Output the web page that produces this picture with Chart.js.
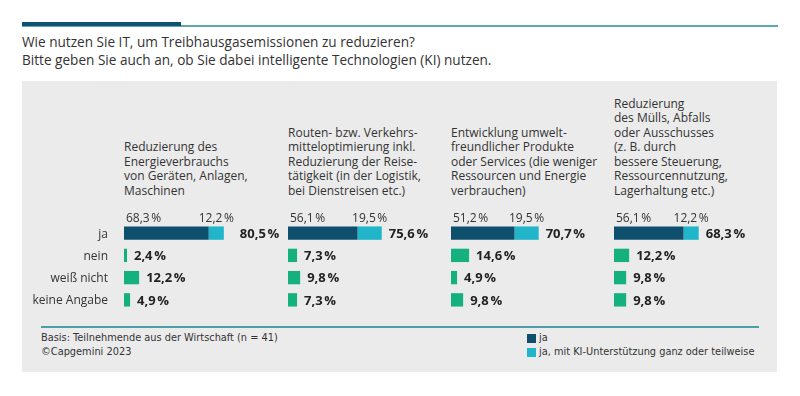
<!DOCTYPE html>
<html>
<head>
<meta charset="utf-8">
<script src="https://cdn.jsdelivr.net/npm/chart.js@4"></script>
<style>
  body { margin:0; width:800px; height:396px; background:#fff; position:relative; overflow:hidden; font-family:"Open Sans", sans-serif; color:#333; }
  .abs { position:absolute; }
  #topline { left:22px; top:25px; width:756px; height:1.5px; background:#5ea7b2; }
  #topbar { left:22px; top:22px; width:159px; height:4px; background:#0e5472; }
  #title { left:22px; top:33px; font-size:13.6px; line-height:18px; color:#333; white-space:nowrap; }
  #panel { left:22px; top:81px; width:755px; height:291px; background:#ebebeb; }
  .head { font-size:12px; line-height:14.5px; color:#333; white-space:nowrap; bottom:198px; }
  #sep { left:41px; top:326px; width:718px; height:1.5px; background:#4e9ea9; }
  .foot { font-family:"DejaVu Sans Condensed","Liberation Sans Narrow",sans-serif; font-size:10.9px; line-height:14px; color:#333; white-space:nowrap; }
  .sq { width:9px; height:9px; }
  canvas { position:absolute; }
</style>
</head>
<body>
<div class="abs" id="topline"></div>
<div class="abs" id="topbar"></div>
<div class="abs" id="title">Wie nutzen Sie IT, um Treibhausgasemissionen zu reduzieren?<br>Bitte geben Sie auch an, ob Sie dabei intelligente Technologien (KI) nutzen.</div>
<div class="abs" id="panel"></div>
<div class="abs" id="sep"></div>
<div class="abs foot" style="left:41px; top:331px;">Basis: Teilnehmende aus der Wirtschaft (n = 41)<br>©Capgemini 2023</div>
<div id="legend"></div>
<script>
// answer rows
const categories = ["ja", "nein", "weiß nicht", "keine Angabe"];
const topics = [
  ["Reduzierung des", "Energieverbrauchs", "von Geräten, Anlagen,", "Maschinen"],
  ["Routen- bzw. Verkehrs-", "mitteloptimierung inkl.", "Reduzierung der Reise-", "tätigkeit (in der Logistik,", "bei Dienstreisen etc.)"],
  ["Entwicklung umwelt-", "freundlicher Produkte", "oder Services (die weniger", "Ressourcen und Energie", "verbrauchen)"],
  ["Reduzierung", "des Mülls, Abfalls", "oder Ausschusses", "(z. B. durch", "bessere Steuerung,", "Ressourcennutzung,", "Lagerhaltung etc.)"]
];
const jaValues = [68.3, 56.1, 51.2, 56.1];
const kiValues = [12.2, 19.5, 19.5, 12.2];
const jaTotals = [80.5, 75.6, 70.7, 68.3];
const neinValues = [2.4, 7.3, 14.6, 12.2];
const weissNichtValues = [12.2, 9.8, 4.9, 9.8];
const keineAngabeValues = [4.9, 7.3, 9.8, 9.8];
const seriesNames = ["ja", "ja, mit KI-Unterstützung ganz oder teilweise"];

const DARK = "#0d4f6c", LIGHT = "#20b5c8", GREEN = "#14b07e";
const barStarts = [124, 288, 451, 614];
const totalGap = [16, 7, 7, 7];

function fmt(v){ return v.toFixed(1).replace(".", ",") + "\u202F%"; }

// legend
var lg = document.getElementById("legend");
[DARK, LIGHT].forEach(function(c, i){
  var sq = document.createElement("div");
  sq.className = "abs sq";
  sq.style.cssText = "left:527px; top:" + (334 + i*14) + "px; background:" + c + ";";
  lg.appendChild(sq);
  var t = document.createElement("div");
  t.className = "abs foot";
  t.style.cssText = "left:539px; top:" + (331 + i*14) + "px;";
  t.innerText = seriesNames[i];
  lg.appendChild(t);
});

const labelPlugin = {
  id: "labels",
  afterDatasetsDraw(chart) {
    const ctx = chart.ctx, x = chart.scales.x, y = chart.scales.y;
    const i = chart.options.panel;
    ctx.save();
    ctx.textBaseline = "middle";
    const yJa = y.getPixelForValue(0);
    // small labels above the ja bar
    ctx.font = "12px 'Open Sans'";
    ctx.fillStyle = "#333";
    ctx.textAlign = "left";
    ctx.fillText(fmt(jaValues[i]), x.getPixelForValue(0) + 2, yJa - 15);
    ctx.textAlign = "center";
    ctx.fillText(fmt(kiValues[i]), x.getPixelForValue(jaValues[i] + kiValues[i] / 2), yJa - 15);
    // totals
    ctx.font = "bold 13px 'Open Sans'";
    ctx.fillStyle = "#222";
    ctx.textAlign = "left";
    ctx.fillText(fmt(jaTotals[i]), x.getPixelForValue(jaTotals[i]) + totalGap[i], yJa + 1);
    const others = [neinValues[i], weissNichtValues[i], keineAngabeValues[i]];
    others.forEach(function(v, k){
      ctx.fillText(fmt(v), x.getPixelForValue(v) + 7, y.getPixelForValue(k + 1) + 1);
    });
    // row labels, first panel only
    if (i === 0) {
      ctx.font = "12px 'Open Sans'";
      ctx.fillStyle = "#333";
      ctx.textAlign = "right";
      categories.forEach(function(c, k){
        ctx.fillText(c, x.getPixelForValue(0) - 16, y.getPixelForValue(k) + 1);
      });
    }
    ctx.restore();
  }
};

for (var i = 0; i < 4; i++) {
  var padLeft = i === 0 ? 94 : 0;
  var h = document.createElement("div");
  h.className = "abs head";
  h.style.left = barStarts[i] + "px";
  h.innerHTML = topics[i].join("<br>");
  document.body.appendChild(h);

  var cv = document.createElement("canvas");
  cv.width = padLeft + 124 + 39;
  cv.height = 108;
  cv.style.left = (barStarts[i] - padLeft) + "px";
  cv.style.top = "205px";
  document.body.appendChild(cv);

  new Chart(cv, {
    type: "bar",
    plugins: [labelPlugin],
    data: {
      labels: categories,
      datasets: [
        { label: seriesNames[0], data: [jaValues[i], null, null, null], backgroundColor: DARK },
        { label: seriesNames[1], data: [kiValues[i], null, null, null], backgroundColor: LIGHT },
        { label: "andere", data: [null, neinValues[i], weissNichtValues[i], keineAngabeValues[i]], backgroundColor: GREEN }
      ]
    },
    options: {
      panel: i,
      indexAxis: "y",
      responsive: false,
      animation: false,
      layout: { padding: { left: padLeft, right: 39, top: 17, bottom: 2 } },
      categoryPercentage: 1,
      barPercentage: 0.6,
      plugins: { legend: { display: false }, tooltip: { enabled: false } },
      scales: {
        x: { display: false, stacked: true, min: 0, max: 100 },
        y: { display: false, stacked: true }
      }
    }
  });
}
</script>
</body>
</html>
